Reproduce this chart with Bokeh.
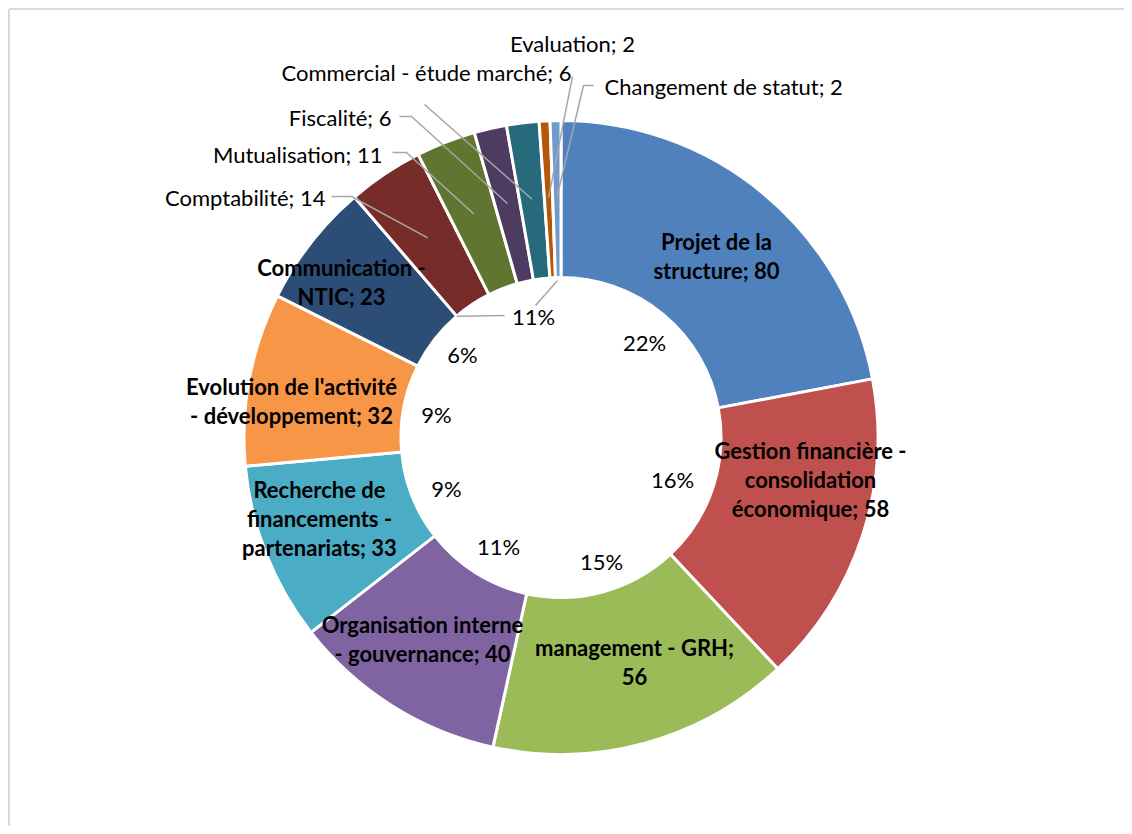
import math
from bokeh.plotting import figure
from bokeh.models import Range1d
from bokeh.core.properties import value
from bokeh.embed import file_html
from bokeh.resources import INLINE

# ---------------- data ----------------
categories = [
    "Projet de la structure",
    "Gestion financière - consolidation économique",
    "management - GRH",
    "Organisation interne - gouvernance",
    "Recherche de financements - partenariats",
    "Evolution de l'activité - développement",
    "Communication - NTIC",
    "Comptabilité",
    "Mutualisation",
    "Fiscalité",
    "Commercial - étude marché",
    "Evaluation",
    "Changement de statut",
]
counts = [80, 58, 56, 40, 33, 32, 23, 14, 11, 6, 6, 2, 2]
colors = ["#4F81BD", "#C0504D", "#9BBB59", "#8064A2", "#4BACC6", "#F79646",
          "#2C4D75", "#772C2A", "#5F7530", "#4D3B62", "#276A7C", "#B65708", "#729ACA"]
# inner percentage ring: first 7 categories individually, the rest grouped
n_major = 7

# ---------------- layout ----------------
W, H = 1124, 826
OX, OY = 1, 1   # screen position of the canvas
FONT = "Lato"
FS = "22px"


def X(px):
    return px - OX


def Y(py):
    return (H + OY) - py


cx, cy = X(561.5), Y(438)
r_out, r_in = 317, 160

p = figure(width=W, height=H, output_backend="svg", toolbar_location=None,
           x_range=Range1d(0, W), y_range=Range1d(0, H),
           x_axis_type=None, y_axis_type=None, min_border=0,
           background_fill_color="white", border_fill_color="white")
p.grid.visible = False
p.outline_line_color = None

# frame border (left and top visible)
p.line(x=[X(9.5), X(9.5)], y=[Y(9.5), 0], line_color="#D9D9D9", line_width=2)
p.line(x=[X(9.5), W], y=[Y(9.5), Y(9.5)], line_color="#D9D9D9", line_width=2)

total = sum(counts)
cum = [0]
for c in counts:
    cum.append(cum[-1] + c)
starts = [math.pi / 2 - 2 * math.pi * cum[i] / total for i in range(len(counts))]
ends = [math.pi / 2 - 2 * math.pi * cum[i + 1] / total for i in range(len(counts))]

p.annular_wedge(x=cx, y=cy, inner_radius=r_in, outer_radius=r_out,
                start_angle=starts, end_angle=ends, direction="clock",
                fill_color=colors, line_color="white", line_width=3)


def mid_point(i, r):
    a = 2 * math.pi * (cum[i] + counts[i] / 2) / total  # clockwise from top
    return cx + r * math.sin(a), cy + r * math.cos(a)


# ---------------- bold labels inside the major segments ----------------
breaks = [[3], [3, 4], [3], [2], [2, 4], [3], [2]]
label_pos = [(717, 256), (811, 480), (635, 662), (423, 639), (320, 519), (292, 401), (342, 282)]
LH = 29
bx, by, bt = [], [], []
for i in range(n_major):
    words = f"{categories[i]}; {counts[i]}".split(" ")
    lines, prev = [], 0
    for b in breaks[i] + [len(words)]:
        lines.append(" ".join(words[prev:b]))
        prev = b
    px, py = label_pos[i]
    n = len(lines)
    for k, ln in enumerate(lines):
        bx.append(X(px))
        by.append(Y(py + (k - (n - 1) / 2) * LH))
        bt.append(ln)
p.text(x=bx, y=by, text=bt, text_font=value(FONT), text_font_size=FS,
       text_font_style="bold", text_align="center", text_baseline="middle",
       text_color="black")

# ---------------- small labels with leader lines ----------------
small_pos = [(326, 198, "right"), (383, 155, "right"), (392, 118, "right"),
             (572, 73, "right"), (573, 44, "center"), (605, 87, "left")]
leader_start = [[(332, 197), (352, 197)], [(393, 153), (407, 153)], [(400, 117), (412, 117)],
                [(425, 105)], [(573, 77)], [(594, 86), (584, 86)]]
for j, i in enumerate(range(n_major, len(counts))):
    px, py, al = small_pos[j]
    p.text(x=[X(px)], y=[Y(py)], text=[f"{categories[i]}; {counts[i]}"],
           text_font=value(FONT), text_font_size=FS, text_align=al,
           text_baseline="middle", text_color="black")
    ex, ey = mid_point(i, 240)
    xs = [X(a) for a, b in leader_start[j]] + [ex]
    ys = [Y(b) for a, b in leader_start[j]] + [ey]
    p.line(x=xs, y=ys, line_color="#A6A6A6", line_width=1.5)

# ---------------- inner percentage labels ----------------
groups = counts[:n_major] + [sum(counts[n_major:])]
pct_pos = [(645, 343), (673, 480), (602, 562), (499, 547), (447, 489),
           (437, 415), (463, 355), (534, 317)]
p.text(x=[X(a) for a, b in pct_pos], y=[Y(b) for a, b in pct_pos],
       text=[f"{round(g / total * 100)}%" for g in groups],
       text_font=value(FONT), text_font_size=FS, text_align="center",
       text_baseline="middle", text_color="black")
# leader lines of the grouped percentage
corner_a = 2 * math.pi * cum[n_major] / total
p.line(x=[cx + r_in * math.sin(corner_a), X(505)], y=[cy + r_in * math.cos(corner_a), Y(316)],
       line_color="#A6A6A6", line_width=1.5)
p.line(x=[X(536), X(558)], y=[Y(306), Y(281)], line_color="#A6A6A6", line_width=1.5)

open("out.html", "w").write(file_html(p, INLINE))
